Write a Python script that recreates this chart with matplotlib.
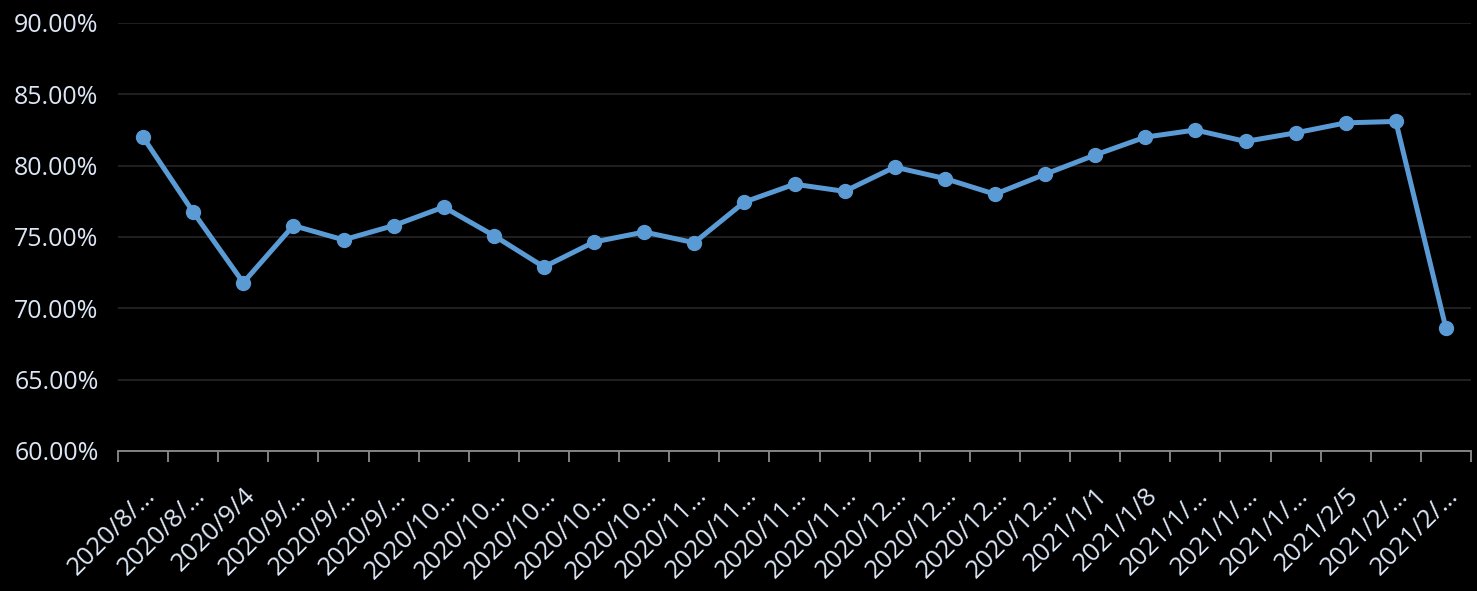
import matplotlib
matplotlib.use("Agg")
import matplotlib.pyplot as plt
from matplotlib.ticker import FuncFormatter, MultipleLocator

# weekly labels as shown on the axis (truncated by the original chart)
labels = ["2020/8/…", "2020/8/…", "2020/9/4", "2020/9/…", "2020/9/…", "2020/9/…",
          "2020/10…", "2020/10…", "2020/10…", "2020/10…", "2020/10…",
          "2020/11…", "2020/11…", "2020/11…", "2020/11…",
          "2020/12…", "2020/12…", "2020/12…", "2020/12…",
          "2021/1/1", "2021/1/8", "2021/1/…", "2021/1/…", "2021/1/…",
          "2021/2/5", "2021/2/…", "2021/2/…"]
rates = [82.0, 76.75, 71.8, 75.8, 74.8, 75.8, 77.1, 75.1, 72.9, 74.65, 75.35,
         74.6, 77.45, 78.7, 78.2, 79.9, 79.1, 78.0, 79.4, 80.75, 82.0, 82.5,
         81.7, 82.3, 83.0, 83.1, 68.6]

plt.rcParams['font.family'] = ['Open Sans', 'DejaVu Sans']

fig = plt.figure(figsize=(14.77, 5.91), dpi=100, facecolor='black')
ax = fig.add_axes([118 / 1477, 1 - 451 / 591, (1471 - 118) / 1477, (451 - 23) / 591])
ax.set_facecolor('black')

x = list(range(len(rates)))
ax.plot(x, rates, color='#5B9BD5', linewidth=3.6, marker='o', markersize=10,
        solid_capstyle='round', zorder=3)

ax.set_ylim(60, 90)
ax.set_xlim(-0.5, len(rates) - 0.5)
ax.yaxis.set_major_locator(MultipleLocator(5))
ax.yaxis.set_major_formatter(FuncFormatter(lambda v, p: f"{v:.2f}%"))
ax.grid(axis='y', color='#262626', linewidth=1.2, zorder=0)

for s in ['top', 'right', 'left']:
    ax.spines[s].set_visible(False)
ax.spines['bottom'].set_color('#8C8C8C')
ax.spines['bottom'].set_linewidth(1.3)

# category ticks sit between points, labels at points
ax.set_xticks([i - 0.5 for i in range(len(rates) + 1)])
ax.set_xticklabels([])
ax.tick_params(axis='x', which='major', length=8, color='#8C8C8C', width=1.3)
ax.set_xticks(x, minor=True)
ax.set_xticklabels(labels, minor=True, rotation=45, ha='right', va='top',
                   rotation_mode='anchor', color='#DDE6F5', fontsize=18.5)
ax.tick_params(axis='x', which='minor', length=0, pad=23)
ax.tick_params(axis='y', length=0, colors='#DDE6F5', labelsize=18, pad=14)

fig.savefig('out.png', dpi=100, facecolor='black')
